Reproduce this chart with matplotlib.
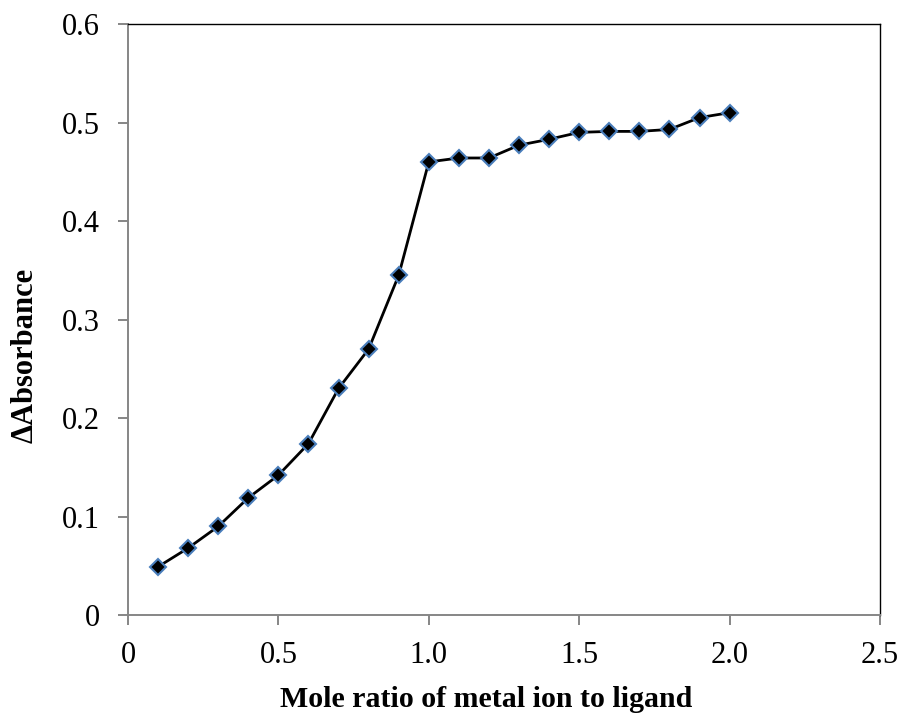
import matplotlib.pyplot as plt

# mole ratio (metal ion : ligand) and change in absorbance
mole_ratio = [0.1, 0.2, 0.3, 0.4, 0.5, 0.6, 0.7, 0.8, 0.9, 1.0,
              1.1, 1.2, 1.3, 1.4, 1.5, 1.6, 1.7, 1.8, 1.9, 2.0]
d_absorbance = [0.049, 0.068, 0.090, 0.119, 0.142, 0.174, 0.230, 0.270, 0.345, 0.460,
                0.464, 0.464, 0.477, 0.483, 0.490, 0.491, 0.491, 0.493, 0.505, 0.510]

x_ticks = [0, 0.5, 1.0, 1.5, 2.0, 2.5]
x_tick_labels = ['0', '0.5', '1.0', '1.5', '2.0', '2.5']
y_ticks = [0, 0.1, 0.2, 0.3, 0.4, 0.5, 0.6]
y_tick_labels = ['0', '0.1', '0.2', '0.3', '0.4', '0.5', '0.6']

plt.rcParams['font.family'] = ['Liberation Serif', 'DejaVu Serif']
axis_grey = '#868686'

fig = plt.figure(figsize=(9.02, 7.13), dpi=100)
ax = fig.add_axes([0.1419, 0.1374, 0.8337, 0.8289])

ax.plot(mole_ratio, d_absorbance, color='black', linewidth=2.0,
        marker='D', markersize=8, markerfacecolor='black',
        markeredgecolor='#4a7ebb', markeredgewidth=1.5, zorder=3)

ax.set_xlim(0, 2.5)
ax.set_ylim(0, 0.6)
ax.set_xticks(x_ticks)
ax.set_xticklabels(x_tick_labels)
ax.set_yticks(y_ticks)
ax.set_yticklabels(y_tick_labels)

ax.spines['left'].set_color(axis_grey)
ax.spines['bottom'].set_color(axis_grey)
ax.spines['left'].set_linewidth(1.4)
ax.spines['bottom'].set_linewidth(1.4)
ax.spines['top'].set_color('black')
ax.spines['right'].set_color('black')
ax.spines['top'].set_linewidth(1.0)
ax.spines['right'].set_linewidth(1.0)

ax.tick_params(axis='both', direction='out', length=7.5, width=1.4,
               color=axis_grey, labelsize=22, labelcolor='black')
ax.tick_params(axis='x', pad=11)
ax.tick_params(axis='y', pad=13)

ax.set_xlabel('Mole ratio of metal ion to ligand', fontsize=21.5, fontweight='bold', labelpad=11.5)
ax.set_ylabel('\u0394Absorbance', fontsize=22, fontweight='bold', labelpad=16)
# axis titles sit a little off-centre
ax.xaxis.label.set_x(0.476)
ax.yaxis.label.set_y(0.44)

fig.savefig('out.png', dpi=100)
